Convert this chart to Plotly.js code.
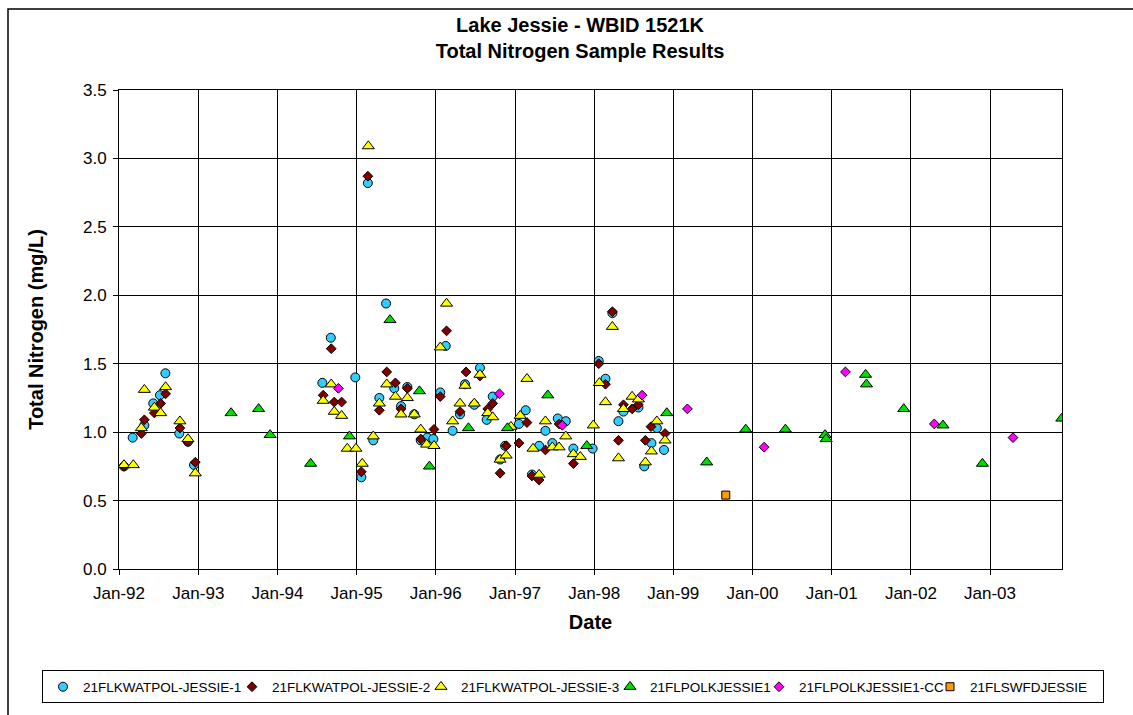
<!DOCTYPE html>
<html>
<head>
<meta charset="utf-8">
<script src="https://cdn.plot.ly/plotly-3.0.1.min.js"></script>
<style>
html,body{margin:0;padding:0;background:#fff;}
#chart{width:1133px;height:715px;}
</style>
</head>
<body>
<div id="chart"></div>
<script>
// ---- Data ----
const seriesNames = ['21FLKWATPOL-JESSIE-1','21FLKWATPOL-JESSIE-2','21FLKWATPOL-JESSIE-3','21FLPOLKJESSIE1','21FLPOLKJESSIE1-CC','21FLSWFDJESSIE'];

const jessie1Dates = ['1992-01-24','1992-03-04','1992-04-27','1992-06-07','1992-07-08','1992-08-02','1992-10-05','1992-11-14','1992-12-12',
'1994-07-27','1994-09-04','1994-12-26','1995-01-23','1995-02-22','1995-03-19','1995-04-16','1995-05-17','1995-06-24','1995-07-25','1995-08-23','1995-09-24','1995-10-24','1995-11-23','1995-12-21',
'1996-01-22','1996-02-16','1996-03-19','1996-04-22','1996-05-15','1996-06-27','1996-07-23','1996-08-23','1996-09-20','1996-10-24','1996-11-16',
'1997-01-19','1997-02-19','1997-03-20','1997-04-22','1997-05-21','1997-06-22','1997-07-17','1997-08-23','1997-09-27','1997-12-25',
'1998-01-22','1998-02-22','1998-03-26','1998-04-23','1998-05-16','1998-07-24','1998-08-20','1998-09-22','1998-10-17','1998-11-19'];
const jessie1Values = [0.75,0.96,1.05,1.21,1.27,1.43,0.99,0.93,0.76,
1.36,1.69,1.40,0.67,2.82,0.94,1.25,1.94,1.32,1.19,1.33,1.13,0.94,0.96,0.95,
1.29,1.63,1.01,1.13,1.35,1.20,1.47,1.09,1.26,0.80,0.90,
1.06,1.16,0.69,0.90,1.01,0.92,1.10,1.08,0.88,0.88,
1.52,1.39,1.87,1.08,1.15,1.18,0.75,0.92,1.03,0.87];

const jessie2Dates = ['1992-01-24','1992-04-13','1992-04-27','1992-06-12','1992-07-11','1992-08-03','1992-10-08','1992-11-14','1992-12-18',
'1994-07-31','1994-09-06','1994-09-20','1994-10-24','1995-01-23','1995-02-22','1995-04-16','1995-05-20','1995-06-29','1995-07-25','1995-08-23','1995-10-24','1995-12-24',
'1996-01-22','1996-02-20','1996-04-22','1996-05-20','1996-07-23','1996-08-28','1996-09-20','1996-10-24','1996-11-21',
'1997-01-19','1997-02-25','1997-03-20','1997-04-22','1997-05-21','1997-07-23','1997-09-27',
'1998-01-22','1998-02-22','1998-03-26','1998-04-23','1998-05-16','1998-06-25','1998-07-24','1998-08-25','1998-09-20','1998-11-24'];
const jessie2Values = [0.75,0.99,1.09,1.14,1.21,1.28,1.03,0.93,0.78,
1.27,1.61,1.22,1.22,0.71,2.87,1.16,1.44,1.36,1.17,1.32,0.95,1.02,
1.26,1.74,1.15,1.44,1.41,1.17,1.21,0.70,0.90,
0.92,1.07,0.68,0.65,0.87,1.06,0.77,
1.50,1.35,1.88,0.94,1.20,1.17,1.20,0.94,1.04,0.99];

const jessie3Dates = ['1992-01-24','1992-03-07','1992-04-13','1992-04-27','1992-06-12','1992-07-11','1992-08-03','1992-10-08','1992-11-14','1992-12-18',
'1994-07-31','1994-09-06','1994-09-20','1994-10-24','1994-11-19','1994-12-29','1995-01-27','1995-02-24','1995-03-19','1995-04-16','1995-05-20','1995-06-29','1995-07-25','1995-08-23','1995-09-24','1995-10-24','1995-11-20','1995-12-24',
'1996-01-22','1996-02-20','1996-03-19','1996-04-22','1996-05-15','1996-06-27','1996-07-23','1996-08-28','1996-09-20','1996-10-24','1996-11-21','1996-12-13',
'1997-01-25','1997-02-25','1997-03-25','1997-04-22','1997-05-21','1997-06-22','1997-07-23','1997-08-23','1997-09-27','1997-10-29','1997-12-28',
'1998-01-25','1998-02-22','1998-03-26','1998-04-23','1998-05-16','1998-06-25','1998-07-24','1998-08-25','1998-09-22','1998-10-17','1998-11-24'];
const jessie3Values = [0.76,0.76,1.03,1.31,1.18,1.14,1.33,1.08,0.95,0.70,
1.23,1.35,1.15,1.12,0.88,0.88,0.77,3.09,0.97,1.21,1.35,1.26,1.13,1.25,1.13,1.02,0.91,0.90,
1.62,1.94,1.08,1.21,1.34,1.21,1.42,1.14,1.11,0.80,0.83,1.04,
1.12,1.39,0.88,0.69,1.08,0.89,0.89,0.97,0.84,0.82,1.05,
1.36,1.22,1.77,0.81,1.17,1.26,1.24,0.78,0.86,1.08,0.94];

const polkDates = ['1993-06-01','1993-10-06','1993-11-28','1994-06-03','1994-11-29','1995-06-04','1995-10-18','1995-12-03','1996-05-31','1996-11-27','1997-06-01','1997-11-28','1998-12-02','1999-06-04','1999-12-01','2000-06-01','2000-12-01','2000-12-06','2001-06-06','2001-06-10','2001-11-29','2002-05-29','2002-11-27','2003-11-28'];
const polkValues = [1.14,1.17,0.98,0.77,0.97,1.82,1.30,0.75,1.03,1.03,1.27,0.90,1.14,0.78,1.02,1.02,0.98,0.95,1.42,1.35,1.17,1.05,0.77,1.10];

const polkCCDates = ['1994-10-09','1996-10-21','1997-08-07','1998-08-10','1999-03-07','2000-02-24','2001-03-05','2002-04-19','2003-04-17'];
const polkCCValues = [1.32,1.28,1.05,1.27,1.17,0.89,1.44,1.06,0.96];

const swfdDates = ['1999-08-31'];
const swfdValues = [0.54];

const yTickVals = [0,0.5,1,1.5,2,2.5,3,3.5];

// ---- Styling ----
const FONT = 'Liberation Sans, Arial, Helvetica, sans-serif';
const LEGW = 13.5;
function mk(name, x, y, symbol, color, size, lw){
  return {type:'scatter', mode:'markers', name:name, x:x, y:y, legendwidth:lw,
    marker:{symbol:symbol, color:color, size:size, line:{color:'#000', width:1}}};
}
const traces = [
  mk(seriesNames[0], jessie1Dates, jessie1Values, 'circle', '#33CCFF', 9, 144),
  mk(seriesNames[1], jessie2Dates, jessie2Values, 'diamond', '#800000', 7.5, 144),
  mk(seriesNames[2], jessie3Dates, jessie3Values, 'triangle-up', '#FFFF00', 10.5, 144),
  mk(seriesNames[3], polkDates, polkValues, 'triangle-up', '#00DD00', 10.5, 104),
  mk(seriesNames[4], polkCCDates, polkCCValues, 'diamond', '#FF00FF', 7.5, 126),
  mk(seriesNames[5], swfdDates, swfdValues, 'square', '#FF9900', 8, 128)
];

const L = 119, R = 1062, T = 90, B = 581, W = 1133, H = 715;
const pw = R - L, ph = B - T;
const layout = {
  width: W, height: H,
  margin: {l: L, r: W - R, t: T, b: H - B, pad: 0},
  paper_bgcolor: '#fff', plot_bgcolor: '#fff',
  font: {family: FONT, color: '#000'},
  showlegend: true,
  hovermode: false,
  title: {
    text: 'Lake Jessie - WBID 1521K<br>Total Nitrogen Sample Results',
    font: {family: FONT, size: 20, weight: 'bold', color: '#000'},
    x: 580 / W, xref: 'container', xanchor: 'center',
    y: 1 - 32 / H, yref: 'container', yanchor: 'top'
  },
  xaxis: {
    type: 'date',
    range: ['1992-01-01', '2003-11-29'],
    tick0: '1992-01-01', dtick: 'M12', tickformat: '%b-%y',
    showgrid: true, gridcolor: '#000', gridwidth: 1,
    showline: true, linecolor: '#000', linewidth: 1, mirror: true,
    ticks: 'outside', ticklen: 5, tickcolor: '#000', tickwidth: 1,
    ticklabelstandoff: 4,
    tickfont: {family: FONT, size: 17, color: '#000'},
    zeroline: false,
    title: {text: 'Date', font: {family: FONT, size: 20, weight: 'bold', color: '#000'}, standoff: 12}
  },
  yaxis: {
    range: [0, 3.5], tickvals: yTickVals, tickformat: '.1f',
    showgrid: true, gridcolor: '#000', gridwidth: 1,
    showline: true, linecolor: '#000', linewidth: 1, mirror: true,
    ticks: 'outside', ticklen: 5, tickcolor: '#000', tickwidth: 1,
    ticklabelstandoff: 3,
    tickfont: {family: FONT, size: 17, color: '#000'},
    zeroline: false,
    title: {text: 'Total Nitrogen (mg/L)', font: {family: FONT, size: 20, weight: 'bold', color: '#000'}, standoff: 33}
  },
  legend: {
    orientation: 'h',
    x: (42 - L) / pw, xanchor: 'left', xref: 'paper',
    y: (B - 685) / ph, yanchor: 'top', yref: 'paper',
    bgcolor: '#fff', bordercolor: '#000', borderwidth: 1,
    font: {family: FONT, size: LEGW, color: '#000'},
    itemclick: false, itemdoubleclick: false,
    tracegroupgap: 0
  },
  shapes: [{
    type: 'rect', xref: 'paper', yref: 'paper', layer: 'below',
    x0: (8 - L) / pw, x1: (1400 - L) / pw,
    y0: (B - 900) / ph, y1: (B - 7) / ph,
    line: {color: '#000', width: 1.5}, fillcolor: 'rgba(0,0,0,0)'
  }]
};

Plotly.newPlot('chart', traces, layout, {staticPlot: true, displayModeBar: false});
</script>
</body>
</html>
